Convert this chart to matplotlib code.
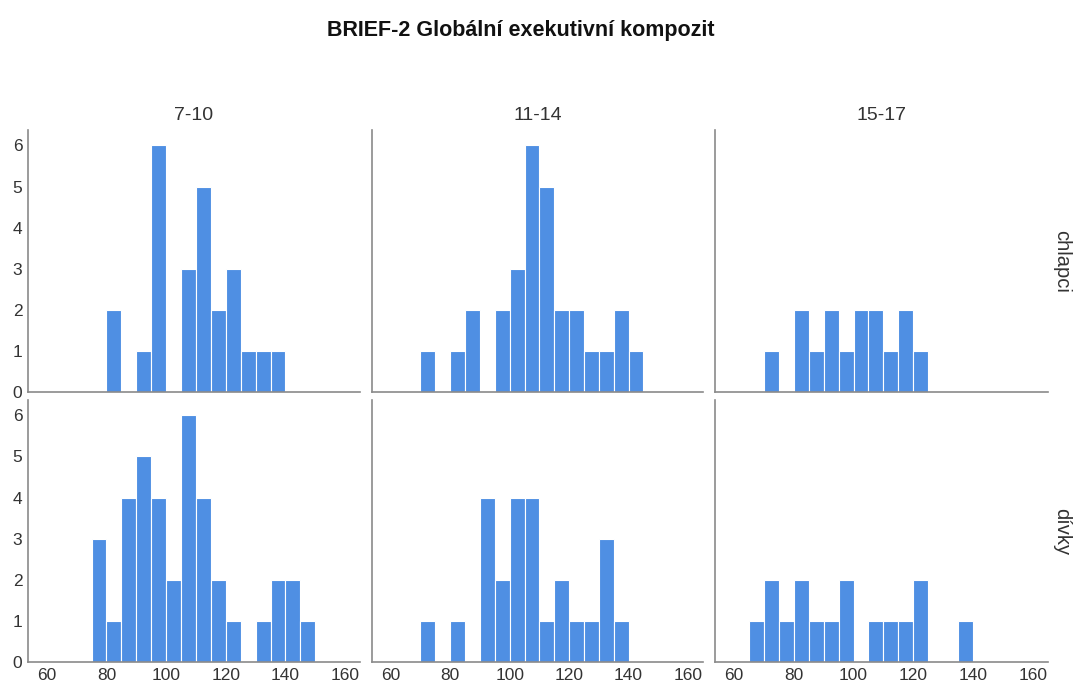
import numpy as np
import matplotlib
matplotlib.use("Agg")
import matplotlib.pyplot as plt

plt.rcParams['font.family'] = ['Liberation Sans', 'DejaVu Sans']

# data: counts per 5-point bin (bin starts 65..145)
bin_starts = [65, 70, 75, 80, 85, 90, 95, 100, 105, 110, 115, 120, 125, 130, 135, 140, 145]
bin_width = 5

age_groups = ["7-10", "11-14", "15-17"]
sexes = ["chlapci", "dívky"]

chlapci_7_10 = [0, 0, 0, 2, 0, 1, 6, 0, 3, 5, 2, 3, 1, 1, 1, 0, 0]
chlapci_11_14 = [0, 1, 0, 1, 2, 0, 2, 3, 6, 5, 2, 2, 1, 1, 2, 1, 0]
chlapci_15_17 = [0, 1, 0, 2, 1, 2, 1, 2, 2, 1, 2, 1, 0, 0, 0, 0, 0]
divky_7_10 = [0, 0, 3, 1, 4, 5, 4, 2, 6, 4, 2, 1, 0, 1, 2, 2, 1]
divky_11_14 = [0, 1, 0, 1, 0, 4, 2, 4, 4, 1, 2, 1, 1, 3, 1, 0, 0]
divky_15_17 = [1, 2, 1, 2, 1, 1, 2, 0, 1, 1, 1, 2, 0, 0, 1, 0, 0]

counts = [[chlapci_7_10, chlapci_11_14, chlapci_15_17],
          [divky_7_10, divky_11_14, divky_15_17]]

x_ticks = [60, 80, 100, 120, 140, 160]
y_ticks = [0, 1, 2, 3, 4, 5, 6]

bar_color = '#4F8FE3'
axis_color = '#8a8a8a'

fig = plt.figure(figsize=(10.76, 6.89), dpi=100)

col_left = [0.026, 0.3457, 0.6645]
col_w = [0.3086, 0.3076, 0.3095]
row_bottom = [0.431, 0.0392]
row_h = 0.380

for r in range(2):
    for c in range(3):
        ax = fig.add_axes([col_left[c], row_bottom[r], col_w[c], row_h])
        ax.bar(bin_starts, counts[r][c], width=bin_width, align='edge',
               color=bar_color, edgecolor='white', linewidth=0.8)
        ax.set_xlim(53.7, 165)
        ax.set_ylim(0, 6.37)
        for s in ['top', 'right']:
            ax.spines[s].set_visible(False)
        for s in ['left', 'bottom']:
            ax.spines[s].set_color(axis_color)
            ax.spines[s].set_linewidth(1.2)
        ax.set_xticks(x_ticks)
        ax.set_yticks(y_ticks)
        ax.tick_params(length=0, labelsize=12.5, colors='#333333', pad=4)
        if r == 0:
            ax.set_xticklabels([])
            ax.set_title(age_groups[c], fontsize=14, color='#333333', pad=7)
        if c > 0:
            ax.set_yticklabels([])
        if c == 2:
            ax.text(1.042, 0.5, sexes[r], rotation=270, transform=ax.transAxes,
                    ha='center', va='center', fontsize=14.5, color='#333333')

fig.text(0.484, 0.956, "BRIEF-2 Globální exekutivní kompozit",
         ha='center', va='center', fontsize=15.5, fontweight='bold', color='#111111')

fig.savefig("out.png", dpi=100)
